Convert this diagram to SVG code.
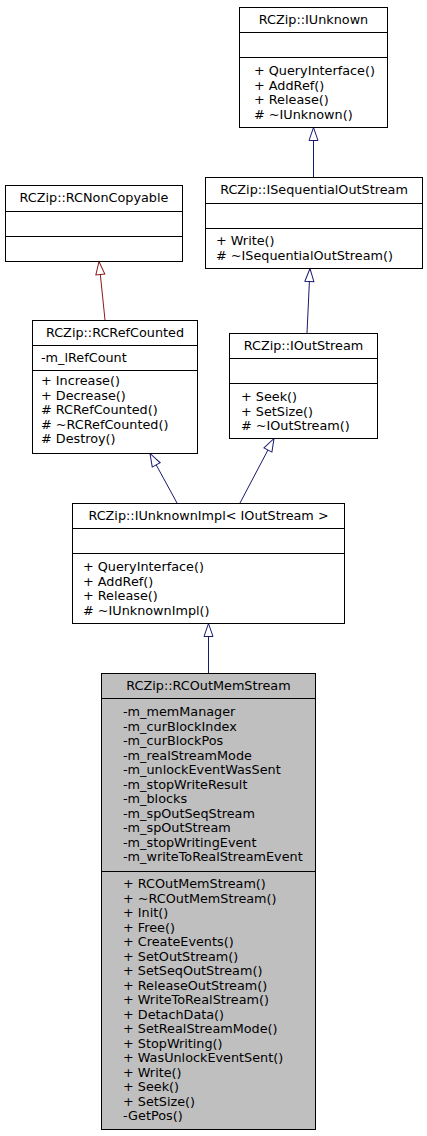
<svg xmlns="http://www.w3.org/2000/svg" width="427" height="1136" viewBox="0 0 427 1136">
<defs>
<style>
.box{fill:#ffffff;stroke:#000000;stroke-width:1}
.grey{fill:#bfbfbf;stroke:#000000;stroke-width:1}
.div{stroke:#000000;stroke-width:1;fill:none}
text{font-family:"DejaVu Sans","Liberation Sans",sans-serif;font-size:12.8px;fill:#000000}
.t{text-anchor:middle}
.eb{stroke:#191970;stroke-width:1;fill:none;marker-end:url(#ab)}
.er{stroke:#8b1a1a;stroke-width:1;fill:none;marker-end:url(#ar)}
</style>
<marker id="ab" markerUnits="userSpaceOnUse" markerWidth="14" markerHeight="10" viewBox="0 0 14 10" refX="13.5" refY="5" orient="auto" overflow="visible">
<path d="M0.5,0.5 L13.5,5 L0.5,9.5 Z" fill="#ffffff" stroke="#191970" stroke-width="1"/>
</marker>
<marker id="ar" markerUnits="userSpaceOnUse" markerWidth="14" markerHeight="10" viewBox="0 0 14 10" refX="13.5" refY="5" orient="auto" overflow="visible">
<path d="M0.5,0.5 L13.5,5 L0.5,9.5 Z" fill="#ffffff" stroke="#8b1a1a" stroke-width="1"/>
</marker>
</defs>
<rect x="0" y="0" width="427" height="1136" fill="#ffffff"/>

<g id="connectors">
<path class="eb" d="M313.5,177 L313.5,127.5"/>
<path class="eb" d="M307,333 L310,268.5"/>
<path class="er" d="M105,320 L99,261.5"/>
<path class="eb" d="M177,503 L150,453.5"/>
<path class="eb" d="M240,503 L274,438.5"/>
<path class="eb" d="M208.5,673 L208.5,623.5"/>
</g>

<g id="IUnknown">
<rect class="box" x="239.5" y="7.5" width="148" height="120"/>
<path class="div" d="M239.5,32.5 H387.5 M239.5,57.5 H387.5"/>
<text class="t" x="313.5" y="24">RCZip::IUnknown</text>
<text x="254" y="75">+ QueryInterface()</text>
<text x="254" y="89.5">+ AddRef()</text>
<text x="254" y="104">+ Release()</text>
<text x="254" y="118.5"># ~IUnknown()</text>
</g>

<g id="RCNonCopyable">
<rect class="box" x="5.5" y="185.5" width="177" height="76"/>
<path class="div" d="M5.5,211.5 H182.5 M5.5,236.5 H182.5"/>
<text class="t" x="94" y="202">RCZip::RCNonCopyable</text>
</g>

<g id="ISequentialOutStream">
<rect class="box" x="205.5" y="177.5" width="217" height="91"/>
<path class="div" d="M205.5,203.5 H422.5 M205.5,228.5 H422.5"/>
<text class="t" x="314" y="194">RCZip::ISequentialOutStream</text>
<text x="216" y="245">+ Write()</text>
<text x="216" y="259.5"># ~ISequentialOutStream()</text>
</g>

<g id="RCRefCounted">
<rect class="box" x="32.5" y="320.5" width="165" height="133"/>
<path class="div" d="M32.5,345.5 H197.5 M32.5,370.5 H197.5"/>
<text class="t" x="115" y="337">RCZip::RCRefCounted</text>
<text x="41" y="362">-m_lRefCount</text>
<text x="41" y="385">+ Increase()</text>
<text x="41" y="399.5">+ Decrease()</text>
<text x="41" y="414"># RCRefCounted()</text>
<text x="41" y="428.5"># ~RCRefCounted()</text>
<text x="41" y="443"># Destroy()</text>
</g>

<g id="IOutStream">
<rect class="box" x="229.5" y="333.5" width="148" height="105"/>
<path class="div" d="M229.5,358.5 H377.5 M229.5,383.5 H377.5"/>
<text class="t" x="303.5" y="350">RCZip::IOutStream</text>
<text x="241" y="401">+ Seek()</text>
<text x="241" y="415.5">+ SetSize()</text>
<text x="241" y="430"># ~IOutStream()</text>
</g>

<g id="IUnknownImpl">
<rect class="box" x="72.5" y="503.5" width="272" height="120"/>
<path class="div" d="M72.5,528.5 H344.5 M72.5,553.5 H344.5"/>
<text class="t" x="208.5" y="520">RCZip::IUnknownImpl&lt; IOutStream &gt;</text>
<text x="83" y="571">+ QueryInterface()</text>
<text x="83" y="585.5">+ AddRef()</text>
<text x="83" y="600">+ Release()</text>
<text x="83" y="614.5"># ~IUnknownImpl()</text>
</g>

<g id="RCOutMemStream">
<rect class="grey" x="101.5" y="673.5" width="214" height="456"/>
<path class="div" d="M101.5,698.5 H315.5 M101.5,871.5 H315.5"/>
<text class="t" x="208.5" y="690">RCZip::RCOutMemStream</text>
<text x="123" y="716">-m_memManager</text>
<text x="123" y="730.5">-m_curBlockIndex</text>
<text x="123" y="745">-m_curBlockPos</text>
<text x="123" y="759.5">-m_realStreamMode</text>
<text x="123" y="774">-m_unlockEventWasSent</text>
<text x="123" y="788.5">-m_stopWriteResult</text>
<text x="123" y="803">-m_blocks</text>
<text x="123" y="817.5">-m_spOutSeqStream</text>
<text x="123" y="832">-m_spOutStream</text>
<text x="123" y="846.5">-m_stopWritingEvent</text>
<text x="123" y="861">-m_writeToRealStreamEvent</text>
<text x="123" y="888">+ RCOutMemStream()</text>
<text x="123" y="902.5">+ ~RCOutMemStream()</text>
<text x="123" y="917">+ Init()</text>
<text x="123" y="931.5">+ Free()</text>
<text x="123" y="946">+ CreateEvents()</text>
<text x="123" y="960.5">+ SetOutStream()</text>
<text x="123" y="975">+ SetSeqOutStream()</text>
<text x="123" y="989.5">+ ReleaseOutStream()</text>
<text x="123" y="1004">+ WriteToRealStream()</text>
<text x="123" y="1018.5">+ DetachData()</text>
<text x="123" y="1033">+ SetRealStreamMode()</text>
<text x="123" y="1047.5">+ StopWriting()</text>
<text x="123" y="1062">+ WasUnlockEventSent()</text>
<text x="123" y="1076.5">+ Write()</text>
<text x="123" y="1091">+ Seek()</text>
<text x="123" y="1105.5">+ SetSize()</text>
<text x="123" y="1120">-GetPos()</text>
</g>
</svg>
